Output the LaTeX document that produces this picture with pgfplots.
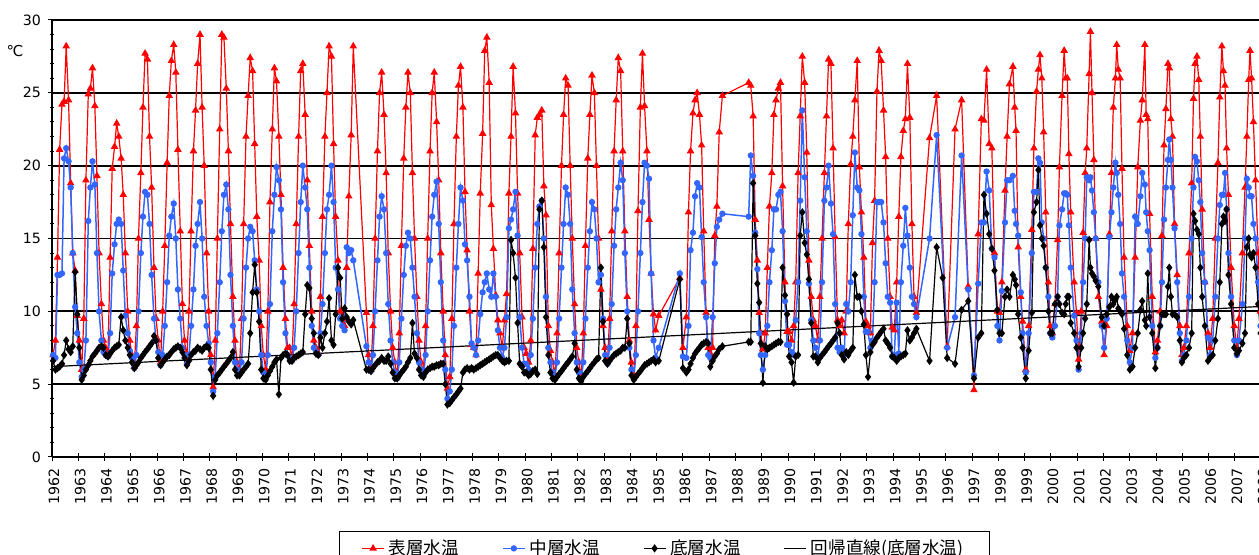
\documentclass[border=0pt]{standalone}
\usepackage{fontspec}
\setmainfont{DejaVu Sans}
\newfontfamily\jp{Noto Sans CJK JP}
\usepackage{pgfplots}
\usepackage{pgfplotstable}
\pgfplotsset{compat=1.18}
\definecolor{sred}{RGB}{255,0,0}
\definecolor{sblue}{RGB}{51,102,255}

\pgfplotstableread{
t r m b
1962.04 7.0 7.0 6.6
1962.13 8.0 6.8 6.0
1962.21 13.7 12.5 6.1
1962.29 21.1 12.5 6.2
1962.38 24.2 12.6 6.4
1962.46 24.4 20.5 7.0
1962.54 28.2 21.2 8.0
1962.63 24.5 20.3 7.4
1962.71 18.8 18.5 7.2
1962.79 14.0 14.0 7.6
1962.88 12.8 10.3 12.7
1962.96 9.7 8.5 9.8
1963.04 8.0 6.5 7.5
1963.13 6.0 5.5 5.3
1963.21 9.5 6.0 5.6
1963.29 19.0 8.0 6.0
1963.38 24.9 16.2 6.3
1963.46 25.3 18.5 6.6
1963.54 26.7 20.3 6.9
1963.63 24.1 18.7 7.1
1963.71 19.3 14.0 7.3
1963.79 14.0 10.0 7.5
1963.88 10.5 8.0 7.6
1963.96 8.0 7.2 7.5
1964.04 7.5 7.0 7.0
1964.13 7.0 6.9 6.9
1964.21 13.7 8.5 7.1
1964.29 19.8 12.6 7.3
1964.38 21.3 14.6 7.5
1964.46 22.9 16.0 7.6
1964.54 22.0 16.3 7.7
1964.63 20.5 16.0 9.6
1964.71 18.0 12.8 8.7
1964.79 14.0 9.7 8.0
1964.88 10.0 8.5 7.5
1964.96 8.0 7.3 7.0
1965.04 7.0 6.8 6.5
1965.13 6.2 6.1 6.1
1965.21 9.0 7.0 6.3
1965.29 15.0 10.0 6.5
1965.38 19.5 14.0 6.8
1965.46 24.0 16.5 7.0
1965.54 27.7 18.2 7.2
1965.63 27.3 18.0 7.4
1965.71 22.0 16.0 7.6
1965.79 18.5 12.5 7.8
1965.88 13.0 9.5 8.3
1965.96 9.5 8.0 8.0
1966.04 8.0 7.2 6.8
1966.13 6.5 6.3 6.3
1966.21 10.0 7.0 6.5
1966.29 14.5 9.0 6.7
1966.38 20.2 12.0 6.9
1966.46 24.8 15.2 7.0
1966.54 27.2 16.5 7.2
1966.63 28.3 17.4 7.4
1966.71 26.4 15.0 7.5
1966.79 21.1 11.5 7.6
1966.88 15.5 9.5 7.5
1966.96 10.5 7.5 7.2
1967.04 8.0 7.0 6.8
1967.13 6.8 6.4 6.3
1967.21 10.0 7.0 6.6
1967.29 15.5 9.0 7.0
1967.38 21.0 11.5 7.2
1967.46 23.8 14.5 7.3
1967.54 27.0 16.0 7.5
1967.63 29.0 17.5 7.4
1967.71 24.0 15.0 7.3
1967.79 20.0 11.0 7.5
1967.88 14.0 9.0 7.6
1967.96 10.0 7.8 7.5
1968.04 7.0 6.5 6.0
1968.13 4.8 4.5 4.2
1968.21 8.0 5.5 5.3
1968.29 15.0 8.5 5.6
1968.38 22.5 12.0 5.8
1968.46 29.0 15.5 6.0
1968.54 28.8 18.0 6.2
1968.63 25.3 18.7 6.4
1968.71 21.0 17.0 6.6
1968.79 16.0 12.5 6.8
1968.88 11.0 9.0 7.2
1968.96 8.0 6.5 6.0
1969.04 6.5 6.0 5.6
1969.13 5.9 5.8 5.6
1969.21 9.5 6.5 5.8
1969.29 16.0 9.5 6.0
1969.38 22.0 13.0 6.2
1969.46 24.8 15.0 6.4
1969.54 27.4 15.8 8.5
1969.63 26.5 15.5 11.3
1969.71 21.5 13.5 13.2
1969.79 16.5 11.5 11.3
1969.88 13.5 10.0 9.3
1969.96 9.0 7.0 6.0
1970.04 7.0 5.8 5.4
1970.13 6.0 5.5 5.3
1970.21 10.0 7.0 5.6
1970.29 17.5 10.5 5.9
1970.38 22.5 15.5 6.2
1970.46 26.7 18.0 6.5
1970.54 25.8 19.9 6.7
1970.63 22.0 19.0 4.3
1970.71 18.0 17.0 6.8
1970.79 13.0 12.0 7.0
1970.88 9.5 8.5 7.1
1970.96 7.5 7.0 7.0
1971.04 7.5 6.8 6.6
1971.13 6.8 6.6 6.6
1971.21 10.5 7.5 6.8
1971.29 16.0 10.0 6.9
1971.38 22.0 14.0 7.0
1971.46 26.5 17.5 7.1
1971.54 27.0 20.0 7.2
1971.63 23.5 18.5 9.8
1971.71 19.0 17.0 11.8
1971.79 14.5 13.0 11.6
1971.88 10.0 9.0 9.5
1971.96 8.0 7.5 8.5
1972.04 7.5 7.2 7.1
1972.13 7.1 7.0 7.0
1972.21 11.0 8.5 8.2
1972.29 16.5 10.5 7.5
1972.38 22.0 14.0 8.5
1972.46 25.0 17.0 9.3
1972.54 28.2 18.0 10.9
1972.63 27.5 20.0 8.0
1972.71 21.5 17.5 7.7
1972.79 16.5 13.0 9.8
1972.88 13.5 11.5 13.0
1972.96 10.0 9.5 12.3
1973.04 9.5 9.0 9.5
1973.13 9.0 8.7 10.2
1973.21 13.0 14.4 9.6
1973.29 17.9 14.0 9.3
1973.38 22.1 14.2 9.1
1973.46 28.2 13.5 9.4
1973.96 9.9 7.6 6.0
1974.04 7.0 6.5 6.0
1974.13 6.0 5.9 5.9
1974.21 9.0 7.0 6.1
1974.29 15.0 10.0 6.3
1974.38 21.0 13.5 6.5
1974.46 25.0 16.5 6.6
1974.54 26.4 17.9 6.8
1974.63 23.5 17.0 6.6
1974.71 19.5 14.0 6.6
1974.79 14.0 10.5 6.9
1974.88 10.0 8.0 6.4
1974.96 7.5 6.5 5.8
1975.04 6.5 5.8 5.4
1975.13 5.5 5.4 5.4
1975.21 8.5 6.5 5.6
1975.29 14.5 9.5 5.8
1975.38 20.5 12.5 6.0
1975.46 24.0 14.5 6.2
1975.54 26.4 15.4 6.5
1975.63 25.0 15.0 6.8
1975.71 19.5 13.0 9.2
1975.79 15.0 11.0 7.1
1975.88 11.0 8.5 6.8
1975.96 8.0 6.5 6.0
1976.04 6.5 6.0 5.6
1976.13 5.8 5.6 5.5
1976.21 9.0 7.0 5.8
1976.29 15.0 10.0 6.0
1976.38 21.0 13.5 6.1
1976.46 25.0 16.5 6.2
1976.54 26.4 18.0 6.2
1976.63 23.0 18.9 6.3
1976.71 19.0 16.0 6.3
1976.79 14.0 12.0 6.4
1976.88 10.0 8.0 6.4
1976.96 7.0 6.0 5.0
1977.04 4.7 4.0 3.6
1977.13 5.5 4.5 3.7
1977.21 9.5 6.0 3.9
1977.29 16.0 9.0 4.1
1977.38 22.0 13.0 4.3
1977.46 25.5 16.0 4.5
1977.54 26.8 18.5 4.7
1977.63 24.0 17.6 5.8
1977.71 18.2 14.6 6.0
1977.79 14.2 13.5 6.1
1977.88 10.0 11.0 6.0
1977.96 7.7 7.8 6.1
1978.04 7.5 7.5 6.0
1978.13 7.0 7.0 6.1
1978.21 12.6 8.0 6.2
1978.29 18.1 9.8 6.3
1978.38 22.2 11.3 6.4
1978.46 27.9 12.0 6.5
1978.54 28.8 12.6 6.6
1978.63 25.7 11.5 6.7
1978.71 17.3 11.0 6.8
1978.79 14.3 12.6 6.9
1978.88 11.1 11.0 7.0
1978.96 9.4 8.7 7.0
1979.04 8.5 7.5 6.8
1979.13 7.5 6.8 6.6
1979.21 9.4 7.5 6.5
1979.29 11.2 9.6 6.6
1979.38 18.1 15.7 6.6
1979.46 22.0 16.3 14.9
1979.54 26.8 17.0 14.0
1979.63 23.6 18.2 12.3
1979.71 18.1 15.2 9.2
1979.79 14.0 9.6 6.4
1979.88 9.6 7.5 6.2
1979.96 7.5 6.4 5.8
1980.04 7.1 6.4 5.8
1980.13 6.5 6.0 5.6
1980.21 8.0 7.0 5.7
1980.29 14.3 9.5 5.9
1980.38 22.1 13.0 6.0
1980.46 23.3 16.0 5.7
1980.54 23.5 17.2 17.0
1980.63 23.8 17.6 17.6
1980.71 18.6 15.0 14.4
1980.79 16.6 11.0 9.6
1980.88 9.0 7.5 7.0
1980.96 7.3 6.5 5.8
1981.04 6.5 5.8 5.4
1981.13 5.6 5.5 5.3
1981.21 8.5 6.5 5.5
1981.29 14.0 9.5 5.7
1981.38 20.0 13.0 5.9
1981.46 23.5 16.0 6.1
1981.54 26.0 18.5 6.3
1981.63 25.5 18.0 6.5
1981.71 20.0 16.0 6.7
1981.79 15.0 11.5 6.9
1981.88 10.5 8.5 7.8
1981.96 7.5 6.5 6.0
1982.04 6.5 5.8 5.4
1982.13 5.5 5.3 5.2
1982.21 8.5 6.5 5.5
1982.29 14.5 9.5 5.7
1982.38 20.5 13.0 5.9
1982.46 23.5 15.5 6.1
1982.54 26.2 17.5 6.3
1982.63 25.0 17.0 6.5
1982.71 20.0 15.0 6.7
1982.79 15.0 12.0 6.8
1982.88 11.5 12.5 13.0
1982.96 9.0 9.5 9.3
1983.04 7.5 7.0 6.6
1983.13 6.6 6.4 6.4
1983.21 9.5 7.5 6.6
1983.29 15.5 10.5 6.8
1983.38 21.0 14.5 7.0
1983.46 24.5 17.0 7.1
1983.54 27.4 18.5 7.2
1983.63 26.5 20.2 7.3
1983.71 21.0 19.0 7.5
1983.79 15.5 14.0 7.5
1983.88 11.0 10.0 9.5
1983.96 8.0 7.5 7.8
1984.04 6.5 6.0 5.6
1984.13 5.6 5.4 5.3
1984.21 9.0 7.0 5.5
1984.29 16.9 10.0 5.7
1984.38 24.0 14.0 5.9
1984.46 27.7 17.5 6.1
1984.54 24.1 20.2 6.3
1984.63 21.0 20.0 6.4
1984.71 16.3 19.1 6.5
1984.79 12.6 12.6 6.6
1984.88 9.8 8.0 6.7
1984.96 8.7 6.8 6.5
1985.08 9.7 7.5 6.6
1985.88 12.3 12.6 12.2
1986.00 7.5 6.9 6.1
1986.13 9.6 6.8 5.8
1986.21 16.8 9.0 6.0
1986.29 21.0 14.2 6.4
1986.38 23.6 15.4 6.8
1986.46 24.5 17.9 7.1
1986.54 25.0 18.8 7.3
1986.63 23.5 18.5 7.5
1986.71 21.4 15.1 7.7
1986.79 15.5 12.0 7.8
1986.88 9.9 9.6 7.9
1986.96 7.5 7.0 7.8
1987.04 7.1 6.8 6.2
1987.13 7.5 9.6 6.6
1987.21 15.2 13.3 6.9
1987.29 17.2 15.8 7.1
1987.38 22.3 16.3 7.4
1987.50 24.8 16.7 7.6
1988.50 25.7 16.5 7.9
1988.58 25.5 20.7 7.9
1988.67 23.4 19.3 18.8
1988.75 16.3 15.4 15.2
1988.83 13.5 12.9 11.9
1988.90 9.9 8.5 10.6
1988.96 8.5 7.0 7.8
1989.04 7.4 6.0 5.1
1989.13 8.5 7.0 7.6
1989.21 13.0 9.0 7.4
1989.29 17.2 12.0 7.5
1989.38 19.5 14.2 7.6
1989.46 23.5 17.0 7.7
1989.54 24.5 17.0 7.8
1989.63 25.3 18.0 7.9
1989.71 25.7 18.2 7.9
1989.79 18.6 15.5 13.0
1989.88 12.0 10.7 11.1
1989.96 8.6 7.7 9.8
1990.04 8.6 7.7 6.9
1990.13 8.0 7.2 6.5
1990.21 9.0 7.0 5.1
1990.29 12.0 9.4 6.9
1990.38 19.5 12.0 7.0
1990.46 23.4 17.6 15.2
1990.54 27.5 23.8 16.8
1990.63 25.7 19.2 14.7
1990.71 20.9 15.5 13.9
1990.79 13.5 11.9 12.2
1990.88 11.0 9.4 9.2
1990.96 9.4 8.0 6.9
1991.04 9.0 7.5 6.9
1991.13 8.0 6.9 6.5
1991.21 11.0 8.0 6.8
1991.29 15.0 12.0 7.0
1991.38 19.5 17.6 7.2
1991.46 23.4 18.5 7.4
1991.54 27.3 20.0 7.6
1991.63 27.0 17.4 7.8
1991.71 21.2 15.3 8.0
1991.79 15.1 10.5 8.2
1991.88 9.4 7.5 9.2
1991.96 9.0 7.2 8.5
1992.04 9.4 7.5 7.0
1992.13 8.5 7.0 6.7
1992.21 10.0 10.5 7.2
1992.29 16.0 10.0 7.0
1992.38 20.1 12.0 7.3
1992.46 22.0 16.6 7.5
1992.54 24.5 20.9 12.5
1992.63 27.2 18.5 11.0
1992.71 19.9 18.3 11.0
1992.79 16.8 15.3 10.0
1992.88 13.7 11.0 9.1
1992.96 9.3 8.6 7.0
1993.04 9.0 8.6 5.5
1993.13 8.5 7.5 7.2
1993.21 14.7 8.0 7.7
1993.29 17.6 12.0 7.9
1993.38 25.1 17.5 8.2
1993.46 27.9 17.5 8.4
1993.54 27.2 17.5 8.6
1993.63 23.8 16.1 8.8
1993.71 20.6 13.3 8.0
1993.79 15.0 11.0 7.8
1993.88 11.0 10.6 7.5
1993.96 8.9 6.9 6.9
1994.04 8.7 7.0 6.8
1994.13 12.0 10.6 6.6
1994.21 16.5 7.1 6.8
1994.29 20.6 12.0 6.9
1994.38 22.4 14.5 7.0
1994.46 23.2 17.1 7.1
1994.54 27.0 15.2 8.7
1994.63 23.3 13.0 8.0
1994.71 16.0 11.0 8.2
1994.79 11.0 10.5 8.5
1994.88 9.9 9.6 8.8
1995.38 21.9 15.0 6.6
1995.65 24.8 22.1 14.4
1995.88 nan nan 12.3
1996.05 7.6 7.5 6.8
1996.35 22.5 9.6 6.4
1996.60 24.5 20.7 10.1
1996.85 11.7 11.5 10.7
1997.07 4.6 5.6 5.4
1997.23 15.3 11.9 8.2
1997.35 23.2 16.1 8.5
1997.45 23.1 16.1 18.0
1997.55 26.6 19.6 16.7
1997.65 21.5 18.3 15.3
1997.75 21.2 14.3 14.3
1997.85 14.0 13.7 12.8
1997.96 10.0 9.0 10.1
1998.04 9.9 8.0 8.5
1998.13 12.0 11.4 8.5
1998.25 18.3 16.1 11.0
1998.33 22.0 19.0 11.5
1998.42 25.6 19.0 11.0
1998.55 26.8 19.3 12.5
1998.62 24.0 16.9 12.2
1998.67 22.4 16.0 11.8
1998.75 14.4 15.2 9.8
1998.85 11.0 11.3 8.2
1998.92 9.3 8.5 7.5
1999.04 6.0 5.8 5.4
1999.15 9.0 8.5 7.3
1999.27 15.6 14.0 9.9
1999.35 21.2 18.2 16.8
1999.45 25.1 18.2 17.5
1999.52 26.6 20.5 19.7
1999.58 27.6 20.2 15.9
1999.65 26.0 16.1 15.0
1999.72 22.3 15.0 14.5
1999.80 16.8 13.0 13.0
1999.90 12.0 11.0 10.0
1999.97 9.0 8.5 8.5
2000.05 8.5 8.2 8.5
2000.15 10.5 9.0 10.5
2000.25 14.9 11.0 11.0
2000.32 19.9 15.9 10.5
2000.42 24.8 17.0 9.9
2000.50 27.9 18.1 9.8
2000.56 26.0 18.1 10.5
2000.62 26.0 18.0 11.0
2000.68 20.8 15.9 11.0
2000.75 16.8 13.0 9.2
2000.88 12.0 9.7 8.5
2000.97 9.9 8.0 7.5
2001.05 6.7 6.0 6.2
2001.15 10.0 8.5 7.5
2001.22 15.4 12.0 8.5
2001.30 19.5 15.0 9.5
2001.36 21.2 19.2 10.5
2001.45 26.3 19.0 14.9
2001.50 29.2 19.2 13.0
2001.56 25.0 18.3 12.6
2001.63 20.4 16.8 12.4
2001.70 15.0 15.0 12.1
2001.80 11.0 12.0 11.7
2001.93 9.3 9.0 9.6
2002.02 7.0 7.5 9.0
2002.12 9.0 9.5 9.8
2002.22 15.3 15.1 10.3
2002.30 19.5 16.8 11.0
2002.37 24.0 18.5 10.5
2002.45 26.0 20.2 10.8
2002.50 28.3 19.5 11.0
2002.56 26.6 18.0 10.2
2002.63 26.0 16.0 10.0
2002.70 19.8 12.6 9.8
2002.78 13.7 11.0 8.8
2002.90 9.0 8.0 7.0
2003.00 7.3 6.5 6.0
2003.10 8.5 7.5 6.2
2003.20 13.7 16.5 7.5
2003.30 19.9 16.0 8.5
2003.40 23.1 17.9 10.1
2003.47 24.5 19.5 10.7
2003.57 28.3 18.7 9.4
2003.62 23.5 16.8 9.0
2003.68 23.2 15.5 12.6
2003.75 16.7 14.2 9.6
2003.85 11.0 9.0 8.5
2003.97 7.2 6.8 6.1
2004.05 8.0 7.5 7.5
2004.15 10.0 9.0 9.0
2004.22 15.2 12.0 9.8
2004.30 21.4 16.3 9.8
2004.37 23.9 18.5 9.8
2004.45 27.0 20.4 11.7
2004.50 26.7 21.8 13.0
2004.56 23.2 20.4 11.0
2004.62 22.0 18.5 9.8
2004.70 16.0 15.7 9.8
2004.80 12.5 12.0 9.6
2004.90 9.0 8.5 8.0
2004.98 7.0 6.6 6.5
2005.05 7.5 7.0 6.8
2005.15 9.0 8.0 7.0
2005.25 14.0 11.0 7.5
2005.35 18.8 15.0 8.5
2005.42 24.6 18.5 16.7
2005.48 27.0 20.6 16.2
2005.55 27.5 20.3 15.6
2005.62 25.9 19.0 15.3
2005.68 22.0 17.5 13.0
2005.75 17.0 14.0 11.0
2005.85 12.0 12.0 9.0
2005.97 8.5 8.2 6.6
2006.05 7.5 7.0 6.8
2006.15 9.5 8.0 7.0
2006.25 15.0 11.0 8.0
2006.35 20.2 15.0 9.5
2006.42 24.7 17.3 12.0
2006.50 28.2 18.0 16.0
2006.56 26.5 18.0 16.5
2006.62 25.5 19.5 16.2
2006.68 21.2 17.0 17.0
2006.75 18.0 14.0 12.5
2006.85 13.0 11.0 10.5
2006.97 9.0 8.0 7.5
2007.07 7.5 7.0 7.1
2007.15 9.5 8.0 7.3
2007.28 14.0 10.5 7.8
2007.38 18.5 15.0 8.5
2007.45 22.0 19.1 14.4
2007.52 25.9 18.5 15.0
2007.57 27.9 17.9 13.9
2007.63 26.0 17.9 13.7
2007.70 23.0 16.0 14.0
2007.78 19.0 15.0 13.0
2007.88 14.0 12.0 10.5
2007.97 10.0 9.0 8.5
2008.04 8.5 8.0 7.5
}\data

\begin{document}
\begin{tikzpicture}
\path[use as bounding box] (-26pt,-49pt) rectangle (603.5pt,228.5pt);
\begin{axis}[
  at={(0pt,0pt)}, anchor=south west,
  scale only axis, width=608.6pt, height=218.5pt,
  xmin=1962, xmax=2008.3, ymin=0, ymax=30,
  axis x line=bottom, axis y line=left,
  axis line style={-, line width=0.7pt, black},
  ytick={0,5,...,30}, minor y tick num=4,
  xtick={1962,...,2008}, minor x tick num=3,
  tick align=center, major tick length=4pt, minor tick length=2pt,
  tick style={black, line width=0.5pt},
  ymajorgrids, major grid style={black, line width=0.9pt},
  /pgf/number format/assume math mode=true,
  /pgf/number format/1000 sep={},
  xticklabel style={rotate=90, anchor=east, font=\fontsize{7.1}{8}\selectfont, yshift=-1pt},
  yticklabel style={font=\fontsize{7.1}{8}\selectfont},
  legend columns=4,
  legend style={at={(0.2358,-0.1693)}, anchor=north west, draw=black, line width=0.5pt,
    inner xsep=11pt,
    font=\jp\fontsize{8.8}{10}\selectfont,
    /tikz/every even column/.append style={column sep=19.5pt}},
  legend image code/.code={\draw[mark repeat=2, mark phase=2, #1] plot coordinates {(0pt,0pt) (5.5pt,0pt) (11pt,0pt)};},
]
\addplot[sred, line width=0.6pt, mark=triangle*, mark size=1.6pt] table[x=t,y=r]{\data};
\addlegendentry{表層水温}
\addplot[sblue, line width=0.75pt, mark=*, mark size=1.2pt] table[x=t,y=m]{\data};
\addlegendentry{中層水温}
\addplot[black, line width=0.6pt, mark=diamond*, mark size=1.6pt] table[x=t,y=b]{\data};
\addlegendentry{底層水温}
\addplot[black, line width=0.6pt, no markers] coordinates {(1962,6.2) (2008.5,10.38)};
\addlegendentry{回帰直線(底層水温)}
\end{axis}
\node[font=\fontsize{7.5}{9}\selectfont] at (-18.5pt,203pt) {℃};
\end{tikzpicture}
\end{document}
